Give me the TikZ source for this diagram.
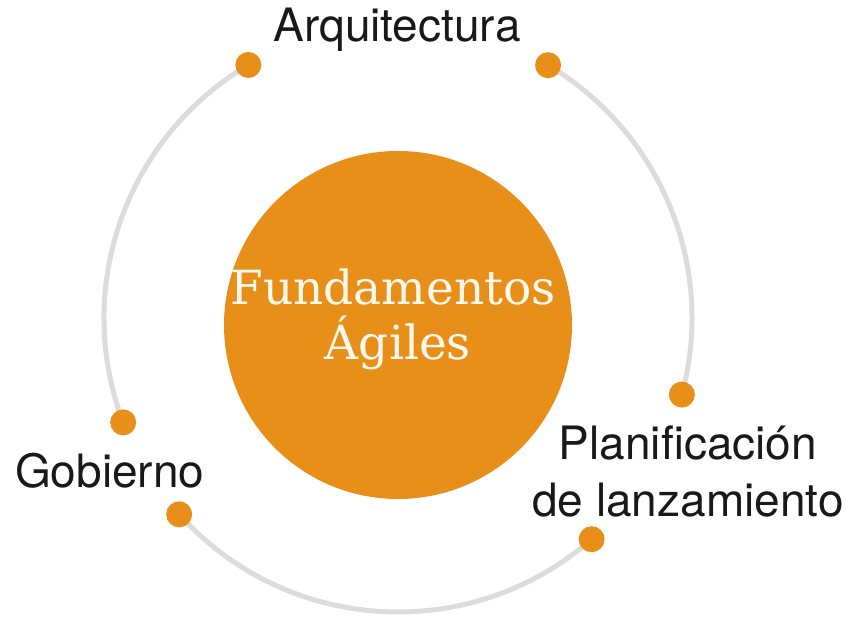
\documentclass[tikz,border=0pt]{standalone}
\usepackage{fontspec}
\newfontfamily\labelfont{TeX Gyre Heros}
\newfontfamily\corefont{DejaVu Serif}
\definecolor{agorange}{RGB}{232,143,26}
\definecolor{ringgray}{RGB}{220,220,220}
\definecolor{cream}{RGB}{255,248,236}
\tikzset{
  ringdot/.style={circle, fill=agorange, inner sep=0pt, minimum size=26pt},
  ringline/.style={ringgray, line width=5pt},
  lbl/.style={font=\labelfont\fontsize{46}{57}\selectfont, text=black!90, inner sep=0pt, anchor=base},
  core/.style={text=cream, font=\corefont\fontsize{47}{55}\selectfont, inner sep=0pt, anchor=base}
}

\begin{document}
\begin{tikzpicture}[x=1pt, y=1pt]
\useasboundingbox (0,0) rectangle (852,617);

\coordinate (ring) at (398,299);
\coordinate (p1) at ([shift={(120.6:294)}]ring);
\coordinate (p2) at ([shift={(200.8:294)}]ring);
\coordinate (p3) at ([shift={(221.9:294)}]ring);
\coordinate (p4) at ([shift={(311.2:294)}]ring);
\coordinate (p5) at ([shift={(-15.1:294)}]ring);
\coordinate (p6) at ([shift={(59.3:294)}]ring);

\draw[ringline] (p1) arc[start angle=120.6, end angle=200.8, radius=294pt];
\draw[ringline] (p3) arc[start angle=221.9, end angle=311.2, radius=294pt];
\draw[ringline] (p5) arc[start angle=-15.1, end angle=59.3, radius=294pt];

\foreach \i in {1,...,6}
  \node[ringdot] (d\i) at (p\i) {};

\node[circle, fill=agorange, minimum size=348pt, inner sep=0pt] (fa) at (398,292) {};
\node[core] (fund) at (393,312) {Fundamentos};
\node[core] (agil) at (398,257) {Ágiles};

\node[lbl] (arq) at (397,575) {Arquitectura};
\node[lbl, anchor=base west] (gob) at (15,129) {Gobierno};
\node[lbl, align=center] (plan) at (688,100) {Planificación\\de lanzamiento};

\end{tikzpicture}
\end{document}
